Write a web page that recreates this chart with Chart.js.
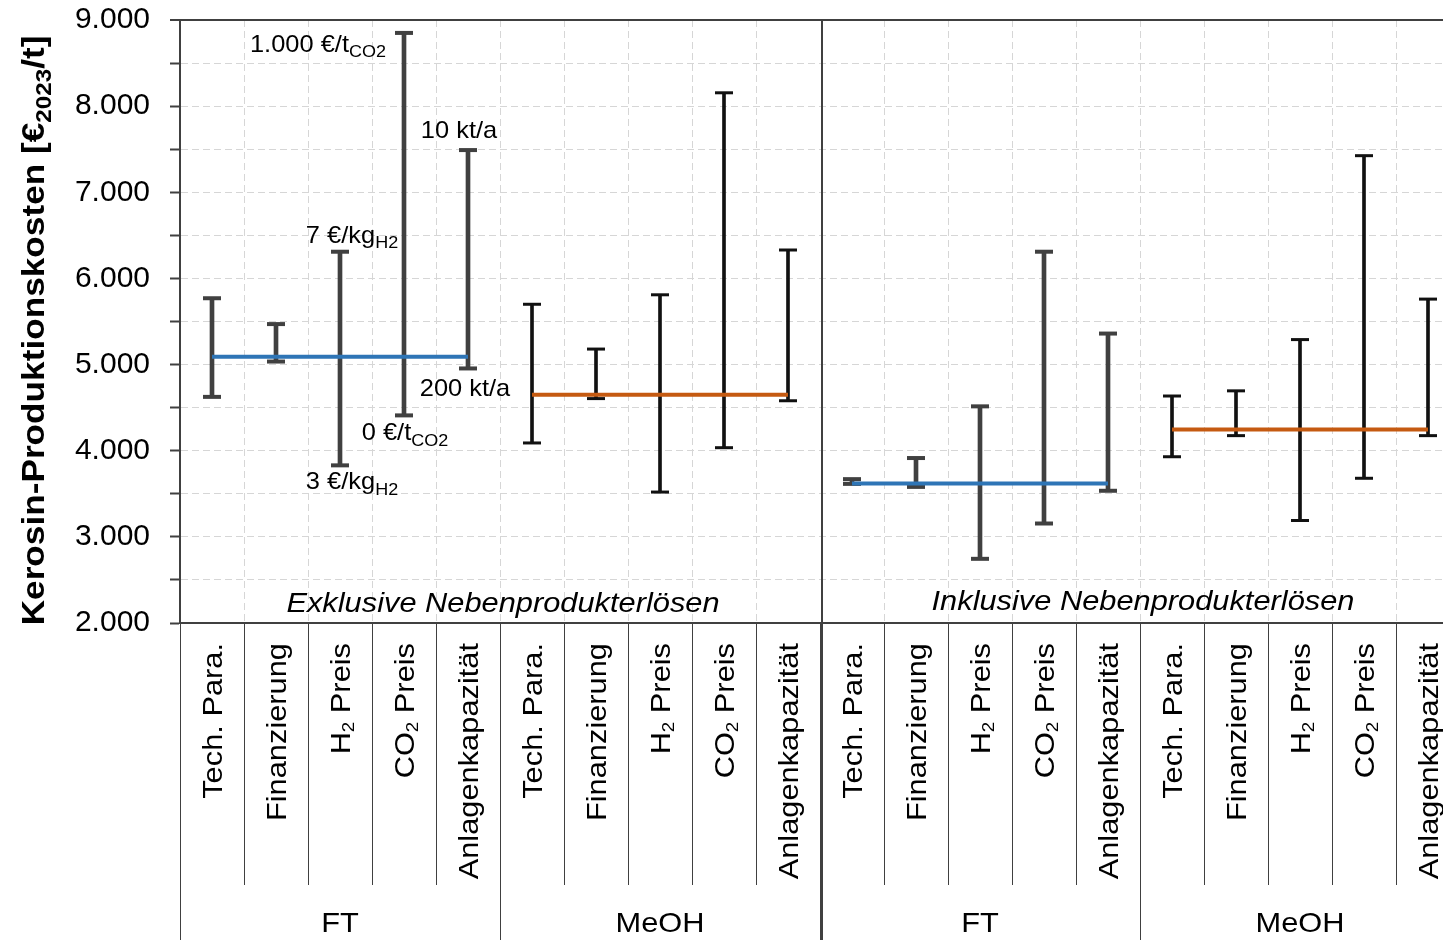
<!DOCTYPE html>
<html><head><meta charset="utf-8">
<script src="https://cdn.jsdelivr.net/npm/chart.js@4"></script>
<style>
html,body{margin:0;padding:0;background:#fff;overflow:hidden;width:1443px;height:940px}
#wrap{width:1462px;height:940px}
canvas{display:block}
</style></head><body>
<div id="wrap"><canvas id="c" width="1462" height="940"></canvas></div>
<script>
// ---------- data ----------
const categories = ['Tech. Para.','Finanzierung','H₂ Preis','CO₂ Preis','Anlagenkapazität'];
const groups = ['FT','MeOH','FT','MeOH'];
const sections = ['Exklusive Nebenprodukterlösen','Inklusive Nebenprodukterlösen'];
const yTitle = 'Kerosin-Produktionskosten [€_2023_/t]';
const baseCosts = [5090, 4650, 3620, 4245];
const highCosts = [5770,5470,6310,8850,7490, 5700,5180,5810,8155,6330, 3670,3915,4515,6310,5360, 4635,4695,5290,7425,5760];
const lowCosts  = [4625,5035,3830,4410,4955, 4090,4605,3520,4035,4580, 3615,3580,2745,3155,3535, 3930,4175,3190,3680,4175];
const yMin = 2000, yMax = 9000, yStep = 500, yLabelStep = 1000;
const annotations = [
  {cat:3, end:'high', text:'1.000 €/t_CO2'},
  {cat:4, end:'high', text:'10 kt/a'},
  {cat:2, end:'high', text:'7 €/kg_H2'},
  {cat:4, end:'low',  text:'200 kt/a'},
  {cat:3, end:'low',  text:'0 €/t_CO2'},
  {cat:2, end:'low',  text:'3 €/kg_H2'}
];

// ---------- styles ----------
const FONT = '"Liberation Sans", Arial, sans-serif';
const annoPlace = [
  {align:'right',  dx:-18, dy:19},
  {align:'center', dx:-9,  dy:-12},
  {align:'center', dx:12,  dy:-9},
  {align:'center', dx:-3,  dy:28},
  {align:'center', dx:1,   dy:25},
  {align:'center', dx:12,  dy:24}
];
const baseColors = ['#2E75B6','#C55A11','#2E75B6','#C55A11'];
const barColors = ['#404040','#111111','#404040','#111111'];

const labels = groups.flatMap(() => categories);
const nCat = categories.length;
const groupOf = i => Math.floor(i / nCat);

function parseRich(s){
  const segs = [];
  const parts = s.split('_');
  parts.forEach((p, k) => {
    if (!p) return;
    if (k % 2 === 1) { segs.push({t:p, sub:true}); return; }
    let buf = '';
    for (const ch of p) {
      if (ch === '₂') { if (buf) segs.push({t:buf, sub:false}); buf=''; segs.push({t:'2', sub:true}); }
      else buf += ch;
    }
    if (buf) segs.push({t:buf, sub:false});
  });
  return segs;
}
function drawRich(ctx, text, x, y, o){
  const segs = parseRich(text);
  ctx.save();
  ctx.translate(x, y);
  if (o.rotate) ctx.rotate(o.rotate);
  ctx.scale(o.stretch || 1, 1);
  const st = o.style || 'normal', wt = o.weight || 'normal';
  const mainF = `${st} ${wt} ${o.size}px ${FONT}`;
  const subF = `${st} ${wt} ${Math.round(o.size * (o.subScale || 0.65))}px ${FONT}`;
  let w = 0; const ws = [];
  for (const s of segs) { ctx.font = s.sub ? subF : mainF; const m = ctx.measureText(s.t).width; ws.push(m); w += m; }
  let cx = o.align === 'right' ? -w : (o.align === 'center' ? -w/2 : 0);
  ctx.textAlign = 'left'; ctx.textBaseline = 'alphabetic'; ctx.fillStyle = o.color || '#000';
  segs.forEach((s, i) => {
    ctx.font = s.sub ? subF : mainF;
    ctx.fillText(s.t, cx, s.sub ? o.size * (o.subDy || 0.2) : 0);
    cx += ws[i];
  });
  ctx.restore();
}

const decorPlugin = {
  id: 'decor',
  afterDraw(chart){
    const ctx = chart.ctx, xs = chart.scales.x, ys = chart.scales.y, ca = chart.chartArea;
    const x0 = xs.getPixelForValue(0), w = xs.getPixelForValue(1) - x0;
    const H = chart.height;
    ctx.save();
    // label-area separators
    ctx.strokeStyle = '#404040'; ctx.lineWidth = 1;
    for (let i = 0; i <= labels.length; i++) {
      const bx = Math.round(x0 - w/2 + i*w) + 0.5;
      ctx.beginPath();
      ctx.moveTo(bx, ca.bottom);
      ctx.lineTo(bx, (i % nCat === 0) ? H : 885);
      ctx.stroke();
    }
    // section divider
    const dx = Math.round(x0 - w/2 + 2*nCat*w) + 2;
    ctx.lineWidth = 2; ctx.strokeStyle = '#404040';
    ctx.beginPath(); ctx.moveTo(dx, ca.top); ctx.lineTo(dx, H); ctx.stroke();
    ctx.restore();

    // category labels (rotated)
    labels.forEach((lab, i) => {
      const cx = xs.getPixelForValue(i);
      drawRich(ctx, lab, cx + 10, 643, {size:28, align:'right', stretch:1.1, rotate:-Math.PI/2, subScale:0.6, subDy:0.15});
    });
    // group labels
    groups.forEach((g, k) => {
      const c = (xs.getPixelForValue(k*nCat) + xs.getPixelForValue(k*nCat + nCat - 1)) / 2;
      drawRich(ctx, g, c, 932, {size:28, align:'center', stretch:1.1});
    });
    // section labels
    sections.forEach((s, k) => {
      const c = (xs.getPixelForValue(k*2*nCat) + xs.getPixelForValue(k*2*nCat + 2*nCat - 1)) / 2;
      drawRich(ctx, s, c + 3, 612 - k*2, {size:28, align:'center', stretch:1.1, style:'italic'});
    });
    // annotations
    annotations.forEach((a, k) => {
      const p = annoPlace[k];
      const v = a.end === 'high' ? highCosts[a.cat] : lowCosts[a.cat];
      const px = xs.getPixelForValue(a.cat), py = ys.getPixelForValue(v);
      drawRich(ctx, a.text, px + p.dx, py + p.dy, {size:24, align:p.align, stretch:1.06, subScale:0.7, subDy:0.22});
    });
    // y title
    drawRich(ctx, yTitle, 44, (ca.top + ca.bottom)/2 + 9, {size:32, weight:'bold', align:'center', stretch:1.1, rotate:-Math.PI/2, subScale:0.68, subDy:0.22});
  }
};

const fmt = v => String(v).replace(/\B(?=(\d{3})+(?!\d))/g, '.');

const datasets = [];
baseCosts.forEach((v, g) => {
  datasets.push({
    type:'line', order:1,
    data: labels.map((_, i) => groupOf(i) === g ? v : null),
    borderColor: baseColors[g], borderWidth: 4, pointRadius: 0, spanGaps:false, borderCapStyle:'butt'
  });
});
['high','low'].forEach(end => {
  datasets.push({
    type:'line', order:2, showLine:false,
    data: end === 'high' ? highCosts : lowCosts,
    pointStyle:'line', pointRadius: 9, pointHoverRadius: 9,
    pointBorderColor: c => barColors[groupOf(c.dataIndex)],
    pointBorderWidth: c => (groupOf(c.dataIndex) % 2 === 0 ? 4 : 3)
  });
});
[0,1].forEach(kind => {
  datasets.push({
    type:'bar', order:3, grouped:false,
    data: labels.map((_, i) => (groupOf(i) % 2 === kind) ? [lowCosts[i], highCosts[i]] : null),
    backgroundColor: kind === 0 ? barColors[0] : barColors[1],
    barThickness: kind === 0 ? 4 : 3, borderWidth: 0
  });
});

new Chart(document.getElementById('c'), {
  type:'bar',
  data:{ labels, datasets },
  options:{
    responsive:false, animation:false, devicePixelRatio:1,
    layout:{ autoPadding:false, padding:{ top:20, right:2, left:0, bottom:0 } },
    plugins:{ legend:{display:false}, tooltip:{enabled:false} },
    scales:{
      x:{
        offset:true,
        ticks:{display:false},
        grid:{ offset:true, drawTicks:false, lineWidth:1,
          color: c => (c.index === 0 || c.index === 2*nCat) ? 'rgba(0,0,0,0)' : '#d6d6d6' },
        border:{ display:true, color:'#404040', width:2, dash:[7,4] },
        afterFit: s => { s.height = 317; s.paddingLeft = 0; s.paddingRight = 0; }
      },
      y:{
        min:yMin, max:yMax,
        ticks:{ stepSize:yStep, padding:20, color:'#000',
          font:{ family:FONT, size:30 },
          callback: v => (v % yLabelStep === 0 ? fmt(v) : '') },
        grid:{ tickLength:10, tickWidth:2, tickColor:'#404040', tickBorderDash:[],
          lineWidth: c => (c.tick && c.tick.value === yMax ? 2 : 1),
          color: c => (c.tick && c.tick.value === yMax ? '#404040' : '#d6d6d6') },
        border:{ display:true, color:'#404040', width:2,
          dash: c => (c.tick && c.tick.value === yMax ? [] : [7,4]) },
        afterFit: s => { s.width = 180; s.paddingTop = 0; s.paddingBottom = 0; }
      }
    }
  },
  plugins:[decorPlugin]
});
</script>
</body></html>
